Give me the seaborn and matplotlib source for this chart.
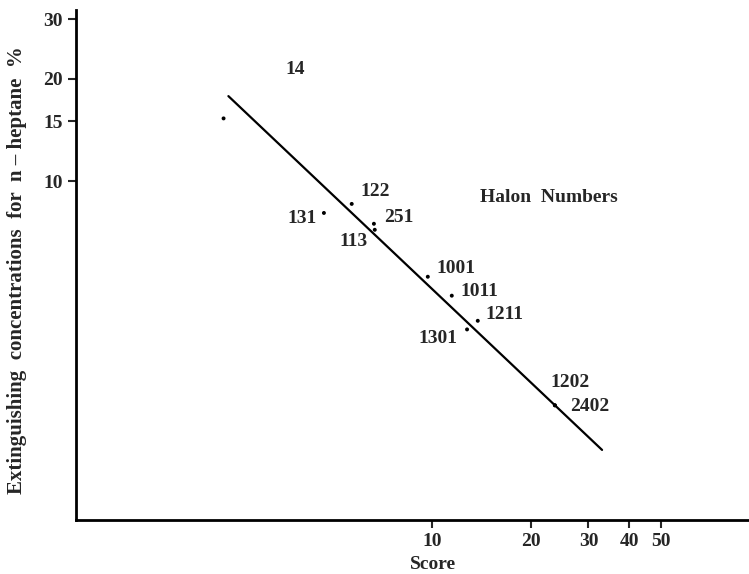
import numpy as np
import pandas as pd
import matplotlib
matplotlib.use("Agg")
import matplotlib.pyplot as plt
import seaborn as sns

# --- DATA ---
halon = ['14', '122', '131', '251', '113', '1001', '1011', '1211', '1301', '1202', '2402']
score = [2.32, 5.70, 4.69, 6.66, 6.70, 9.72, 11.5, 13.8, 12.8, 23.7, 23.7]
conc = [15.3, 8.56, 8.05, 7.48, 7.18, 5.22, 4.59, 3.87, 3.65, 2.18, 2.18]

# fitted line end points
fit_score = [2.40, 33.0]
fit_conc = [17.8, 1.61]

x_ticks = [10, 20, 30, 40, 50]
y_ticks = [10, 15, 20, 30]

# label offsets in pixels (dx, dy, ha)
offsets = {
    '14': (62, 49, 'left'), '122': (9, 12, 'left'), '131': (-7, -6, 'right'),
    '251': (10, 6, 'left'), '113': (-7, -12, 'right'), '1001': (9, 8, 'left'),
    '1011': (9, 4, 'left'), '1211': (8, 6, 'left'), '1301': (-10, -9, 'right'),
    '1202': (-4, 23, 'left'), '2402': (15, -1, 'left'),
}

df = pd.DataFrame({'Halon': halon, 'Score': score, 'Conc': conc})
df_fit = pd.DataFrame({'Score': fit_score, 'Conc': fit_conc})

sns.set_style('ticks')
plt.rcParams['font.family'] = ['Liberation Serif', 'DejaVu Serif']

fig = plt.figure(figsize=(7.49, 5.74), dpi=100)
ax = fig.add_axes([0.101, 0.094, 0.899, 0.889])

sns.lineplot(data=df_fit, x='Score', y='Conc', color='black', lw=1.6, ax=ax)
sns.scatterplot(data=df, x='Score', y='Conc', color='black', s=8, edgecolor='none', ax=ax)

for _, row in df.iterrows():
    dx, dy, ha = offsets[row['Halon']]
    ax.annotate(row['Halon'], (row['Score'], row['Conc']), xytext=(dx, dy),
                textcoords='offset pixels', ha=ha, va='center', fontsize=14,
                fontweight='bold')

ax.text(0.600, 0.633, 'Halon  Numbers', transform=ax.transAxes, fontsize=14,
        fontweight='bold', ha='left', va='center')

ax.set_xscale('log')
ax.set_yscale('log')
ax.set_xlim(0.822, 92.5)
ax.set_ylim(1.0, 32)
ax.set_xticks(x_ticks)
ax.set_xticklabels([str(t) for t in x_ticks], fontsize=14, fontweight='bold')
ax.set_yticks(y_ticks)
ax.set_yticklabels([str(t) for t in y_ticks], fontsize=14, fontweight='bold')
ax.minorticks_off()
ax.tick_params(direction='out', length=6, width=1.5, pad=3)

ax.set_xlabel('Score', fontsize=14, fontweight='bold')
ax.set_ylabel('Extinguishing  concentrations  for  n \u2013 heptane  %', fontsize=15, fontweight='bold')
ax.xaxis.set_label_coords(0.53, -0.07)
ax.yaxis.set_label_coords(-0.072, 0.49)

for side in ['top', 'right']:
    ax.spines[side].set_visible(False)
for side in ['left', 'bottom']:
    ax.spines[side].set_linewidth(2)
    ax.spines[side].set_color('black')

fig.savefig('out.png', dpi=100)
